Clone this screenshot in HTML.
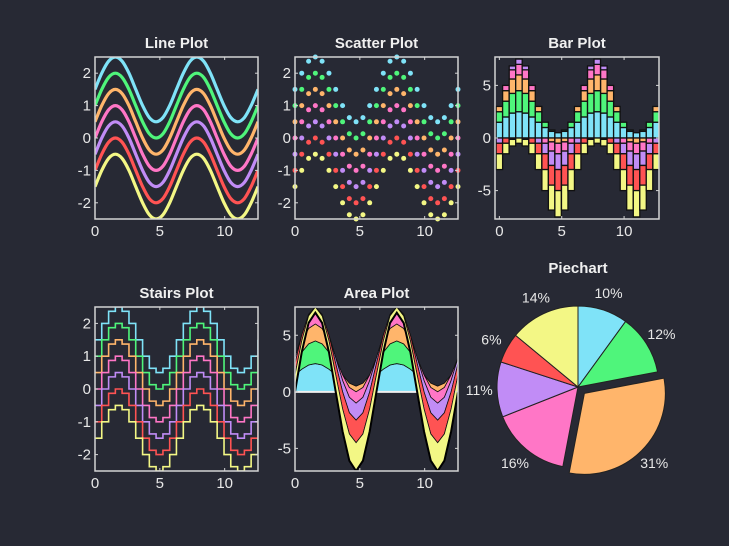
<!DOCTYPE html>
<html><head><meta charset="utf-8"><style>
html,body{margin:0;padding:0;background:#272934;}
svg{display:block;font-family:"Liberation Sans",sans-serif;}
</style></head><body>
<svg id="fig" width="729" height="546" viewBox="0 0 729 546" xmlns="http://www.w3.org/2000/svg">
<rect width="729" height="546" fill="#272934"/>
<defs>
<clipPath id="c1"><rect x="95" y="57" width="163" height="162"/></clipPath>
<clipPath id="c4"><rect x="95" y="307" width="163" height="164"/></clipPath>
<clipPath id="c5"><rect x="295" y="307" width="163" height="164"/></clipPath>
</defs>
</svg>
<script>
// ---- data ----
const sinVals = [0,0.5,0.87,1,0.87,0.5,0,-0.5,-0.87,-1,-0.87,-0.5,0,0.5,0.87,1,0.87,0.5,0,-0.5,-0.87,-1,-0.87,-0.5,0];
const xVals = [0,0.52,1.05,1.57,2.09,2.62,3.14,3.67,4.19,4.71,5.24,5.76,6.28,6.81,7.33,7.85,8.38,8.9,9.42,9.95,10.47,11.0,11.52,12.04,12.57];
const lineOffsets = [1.5,1,0.5,0,-0.5,-1,-1.5];
const areaOffsets = [1.5,1,0.5,0,-0.5,-1,-1.5];
const pieValues = [10,12,31,16,11,6,14];
const pieLabels = ['10%','12%','31%','16%','11%','6%','14%'];
const pieExplode = [0,0,1,0,0,0,0];
const seriesNames = ['cyan','green','orange','pink','purple','red','yellow'];
const xTicks = [0,5,10];
const lineYTicks = [-2,-1,0,1,2];
const bigYTicks = [-5,0,5];

const colors = ['#7fe3f8','#4ff57b','#ffb56b','#ff76c6','#c18cf6','#ff5353','#f3f785'];
const NS='http://www.w3.org/2000/svg';
const svg=document.getElementById('fig');
function el(tag,attrs,parent){const e=document.createElementNS(NS,tag);for(const k in attrs)e.setAttribute(k,attrs[k]);(parent||svg).appendChild(e);return e;}

function axes(name,x0,y0,x1,y1,xmin,xmax,ymin,ymax,yt,title){
  const g=el('g',{});
  
  
  const sx=v=>x0+(v-xmin)/(xmax-xmin)*(x1-x0);
  const sy=v=>y1-(v-ymin)/(ymax-ymin)*(y1-y0);
  const t=el('text',{x:(x0+x1)/2,y:y0-9,'text-anchor':'middle','font-size':15,'font-weight':'bold',fill:'#f0f0f0'},g);
  t.textContent=title;
  
  
  const content=el('g',{},g);
  const deco=()=>{
    const d=el('g',{},g);
    
    
    el('rect',{x:x0,y:y0,width:x1-x0,height:y1-y0,fill:'none',stroke:'#d4d4d4','stroke-width':1.5},d);
    xTicks.forEach(v=>{const X=sx(v);
      el('line',{x1:X,x2:X,y1:y1,y2:y1-3,stroke:'#d4d4d4'},d);
      el('line',{x1:X,x2:X,y1:y0,y2:y0+3,stroke:'#d4d4d4'},d);
      const tt=el('text',{x:X,y:y1+17,'text-anchor':'middle','font-size':15,fill:'#e8e8e8'},d);tt.textContent=v;
      
      });
    yt.forEach(v=>{const Y=sy(v);
      el('line',{x1:x0,x2:x0+3,y1:Y,y2:Y,stroke:'#d4d4d4'},d);
      el('line',{x1:x1,x2:x1-3,y1:Y,y2:Y,stroke:'#d4d4d4'},d);
      const tt=el('text',{x:x0-4,y:Y+5,'text-anchor':'end','font-size':15,fill:'#e8e8e8'},d);tt.textContent=v;
      
      });
  };
  return {sx,sy,content,deco};
}
function smoothPath(pts){
  let d='M'+pts[0][0]+','+pts[0][1];
  for(let i=0;i<pts.length-1;i++){
    const p0=pts[Math.max(0,i-1)],p1=pts[i],p2=pts[i+1],p3=pts[Math.min(pts.length-1,i+2)];
    const c1=[p1[0]+(p2[0]-p0[0])/6,p1[1]+(p2[1]-p0[1])/6];
    const c2=[p2[0]-(p3[0]-p1[0])/6,p2[1]-(p3[1]-p1[1])/6];
    d+=' C'+c1+' '+c2+' '+p2;
  }
  return d;
}
const XMAX=12.57;
// Line plot
{const a=axes('line-plot',95,57,258,219,0,XMAX,-2.5,2.5,lineYTicks,'Line Plot');
 a.content.setAttribute('clip-path','url(#c1)');
 lineOffsets.forEach((o,i)=>{const pts=xVals.map((x,k)=>[a.sx(x),a.sy(sinVals[k]+o)]);
  const p=el('path',{d:smoothPath(pts),fill:'none',stroke:colors[i],'stroke-width':3.2},a.content);
  
  });
 a.deco();}
// Scatter plot
{const a=axes('scatter-plot',295,57,458,219,0,XMAX,-2.5,2.5,lineYTicks,'Scatter Plot');
 lineOffsets.forEach((o,i)=>{xVals.forEach((x,k)=>{
  const c=el('circle',{cx:a.sx(x),cy:a.sy(sinVals[k]+o),r:2.5,fill:colors[i]},a.content);
  
  });});
 a.deco();}
// Bar plot
{const a=axes('bar-plot',495,57,659,219,-0.35,12.8,-7.7,7.7,bigYTicks,'Bar Plot');
 const w=(xVals[1]-xVals[0]);
 xVals.forEach((x,k)=>{let pos=0,neg=0;
  lineOffsets.forEach((o,i)=>{const v=sinVals[k]+o;let b0,b1;
   if(v>=0){b0=pos;b1=pos+v;pos=b1;}else{b0=neg;b1=neg+v;neg=b1;}
   const X0=a.sx(x-w/2),X1=a.sx(x+w/2),Y0=a.sy(Math.max(b0,b1)),Y1=a.sy(Math.min(b0,b1));
   const r=el('rect',{x:X0,y:Y0,width:X1-X0,height:Math.max(0,Y1-Y0),fill:colors[i],stroke:'#111','stroke-width':1.3},a.content);
   
   });});
 a.deco();}
// Stairs plot
{const a=axes('stairs-plot',95,307,258,471,0,XMAX,-2.5,2.5,lineYTicks,'Stairs Plot');
 a.content.setAttribute('clip-path','url(#c4)');
 lineOffsets.forEach((o,i)=>{let d='';
  xVals.forEach((x,k)=>{const Y=a.sy(sinVals[k]+o);
   if(k===0)d='M'+a.sx(x)+','+Y;else d+=' H'+a.sx(x)+' V'+Y;});
  const p=el('path',{d:d,fill:'none',stroke:colors[i],'stroke-width':1.6},a.content);
  
  });
 a.deco();}
// Area plot
{const a=axes('area-plot',295,307,458,471,0,XMAX,-7,7.5,bigYTicks,'Area Plot');
 a.content.setAttribute('clip-path','url(#c5)');
 let prev=xVals.map(()=>0);
 areaOffsets.forEach((o,i)=>{const cur=xVals.map((x,k)=>prev[k]+sinVals[k]+o);
  let d='';xVals.forEach((x,k)=>{d+=(k?' L':'M')+a.sx(x)+','+a.sy(cur[k]);});
  for(let k=xVals.length-1;k>=0;k--)d+=' L'+a.sx(xVals[k])+','+a.sy(prev[k]);
  d+=' Z';
  const p=el('path',{d:d,fill:colors[i],stroke:i===0?'none':'#111','stroke-width':0.8},a.content);
  
  
  if(i===0){let dl='';xVals.forEach((x,k)=>{dl+=(k?' L':'M')+a.sx(x)+','+a.sy(cur[k]);});
   el('path',{d:dl,fill:'none',stroke:'#111','stroke-width':0.8},a.content);
   el('line',{x1:a.sx(0),x2:a.sx(XMAX),y1:a.sy(0),y2:a.sy(0),stroke:'#f0f0f0','stroke-width':2},a.content);}
  prev=cur;});
 let dt='';xVals.forEach((x,k)=>{dt+=(k?' L':'M')+a.sx(x)+','+a.sy(prev[k]);});
 el('path',{d:dt,fill:'none',stroke:'#000','stroke-width':2},a.content);
 a.deco();}
// Pie
{const g=el('g',{});
 
 
 const t=el('text',{x:578,y:273,'text-anchor':'middle','font-size':15,'font-weight':'bold',fill:'#f0f0f0'},g);
 t.textContent='Piechart';
 
 
 const cx=578,cy=387,R=81,total=pieValues.reduce((s,v)=>s+v,0);
 let ang=0;
 pieValues.forEach((v,i)=>{const a0=ang,a1=ang+v/total*2*Math.PI,am=(a0+a1)/2;ang=a1;
  const ex=pieExplode[i]*9;const ox=cx+ex*Math.sin(am),oy=cy-ex*Math.cos(am);
  const p0=[ox+R*Math.sin(a0),oy-R*Math.cos(a0)],p1=[ox+R*Math.sin(a1),oy-R*Math.cos(a1)];
  const p=el('path',{d:`M${ox},${oy} L${p0} A${R},${R} 0 ${a1-a0>Math.PI?1:0} 1 ${p1} Z`,fill:colors[i],stroke:'#222','stroke-width':1},g);
  
  
  const lr=R*1.22+ex;
  const tx=el('text',{x:cx+lr*Math.sin(am),y:cy-lr*Math.cos(am)+5,'text-anchor':'middle','font-size':14,fill:'#e8e8e8'},g);
  tx.textContent=pieLabels[i];
  
  });}
</script>
</body></html>
